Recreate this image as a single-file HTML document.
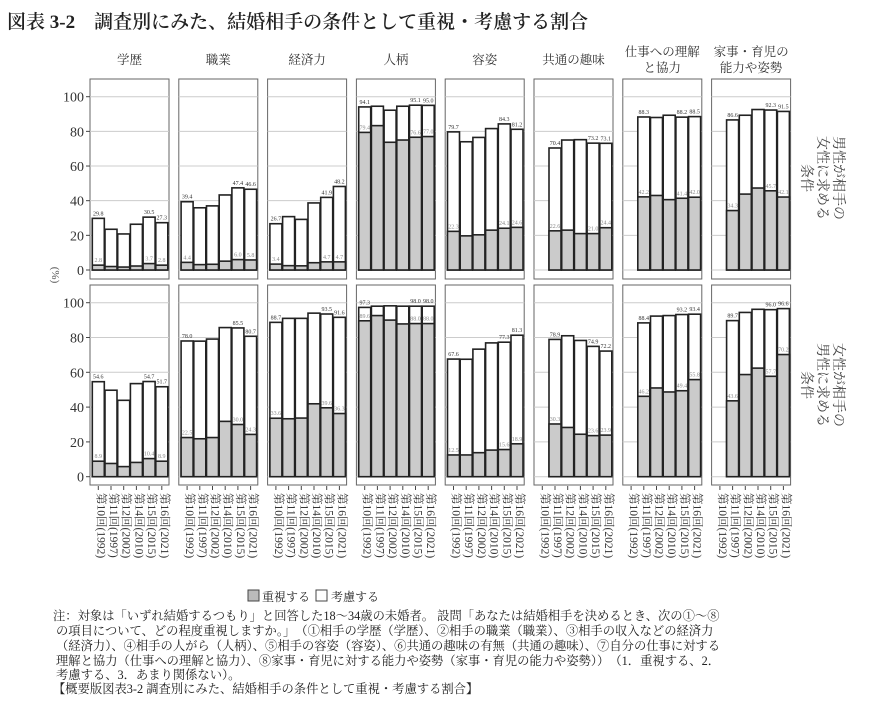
<!DOCTYPE html>
<html><head><meta charset="utf-8"><style>
body{margin:0;background:#fff;width:870px;height:722px;overflow:hidden;font-family:"Liberation Serif","Noto Serif CJK SC","Noto Sans CJK JP",serif;}
svg{position:absolute;left:0;top:0}
</style></head><body>
<svg id="s" width="870" height="722" xmlns="http://www.w3.org/2000/svg" font-family="Liberation Serif, Noto Serif CJK SC, Noto Sans CJK JP, serif"></svg>
<script>
(function(){
const S=document.getElementById('s');let h='';
h+='<text x="7" y="28" font-size="19" font-weight="600" fill="#222">図表 3-2　調査別にみた、結婚相手の条件として重視・考慮する割合</text>';
const titles=[["学歴"],["職業"],["経済力"],["人柄"],["容姿"],["共通の趣味"],["仕事への理解","と協力"],["家事・育児の","能力や姿勢"]];
const topD=[
[[29.8,23.5,20.8,26.4,30.5,27.3],[2.8,2.0,1.7,2.3,3.7,2.8]],
[[39.4,35.9,37.0,43.3,47.4,46.6],[4.4,3.1,3.3,5.1,6.0,5.8]],
[[26.7,30.8,29.2,38.7,41.9,48.2],[3.4,2.5,2.4,4.2,4.7,4.7]],
[[94.1,94.5,92.2,94.5,95.1,95.0],[79.4,83.3,73.7,75.0,76.6,77.0]],
[[79.7,74.0,76.5,81.6,84.3,81.2],[22.3,19.7,20.3,23.0,24.1,24.6]],
[[null,70.4,75.0,75.2,73.2,73.1],[null,22.6,23.0,21.0,21.0,24.4]],
[[null,88.3,88.0,89.3,88.2,88.5],[null,42.2,43.0,40.6,41.4,42.0]],
[[null,86.6,89.3,92.6,92.3,91.5],[null,34.3,43.8,47.3,45.7,42.1]]];
const botD=[
[[54.6,49.7,43.9,53.5,54.7,51.7],[8.9,7.6,5.8,8.2,10.4,8.9]],
[[78.0,77.9,79.1,85.7,85.5,80.7],[22.5,21.8,22.5,31.8,30.0,24.3]],
[[88.7,91.0,91.0,94.0,93.5,91.6],[33.6,33.3,33.7,41.9,39.6,36.3]],
[[97.3,98.0,98.2,98.0,98.0,98.0],[89.6,92.6,90.0,87.8,88.0,88.0]],
[[67.6,67.5,73.3,76.9,77.3,81.3],[12.5,12.5,13.8,15.3,15.6,18.9]],
[[null,78.9,81.0,78.3,74.9,72.2],[null,30.3,28.3,24.4,23.6,23.9]],
[[null,88.4,92.3,92.6,93.2,93.4],[null,46.2,51.0,48.7,49.4,55.8]],
[[null,89.7,94.4,96.2,96.0,96.6],[null,43.6,58.7,62.4,57.7,70.2]]];
const years=["第10回(1992)","第11回(1997)","第12回(2002)","第14回(2010)","第15回(2015)","第16回(2021)"];
function panel(x0,yt,yb,y0,sc,d,first){
 h+=`<rect x="${x0}" y="${yt}" width="79" height="${yb-yt}" fill="#fff" stroke="#666" stroke-width="1"/>`;
 for(let v=0;v<=100;v+=20){const y=y0-v*sc;h+=`<line x1="${x0}" x2="${x0+79}" y1="${y}" y2="${y}" stroke="#ccc" stroke-width="1"/>`;
  if(first){h+=`<line x1="${x0-4}" x2="${x0}" y1="${y}" y2="${y}" stroke="#444"/><text x="${x0-6}" y="${y+5}" font-size="14" text-anchor="end" fill="#333">${v}</text>`;}}
 const t=d[0],hv=d[1];let firstIdx=t[0]==null?1:0;
 for(let i=0;i<6;i++){if(t[i]==null)continue;const bx=x0+2.3+i*12.7;
  const yT=y0-t[i]*sc,yH=y0-hv[i]*sc;
  h+=`<rect x="${bx}" y="${yT}" width="12" height="${y0-yT}" fill="#fff" stroke="#222" stroke-width="1.6"/>`;
  h+=`<rect x="${bx}" y="${yH}" width="12" height="${y0-yH}" fill="#cbcbcb" stroke="#222" stroke-width="1.6"/>`;
  if(i==firstIdx||i>=4){h+=`<text x="${bx+6}" y="${yT-3}" font-size="6" text-anchor="middle" fill="#333">${t[i].toFixed(1)}</text><text x="${bx+6}" y="${yH-3}" font-size="6" text-anchor="middle" fill="#888">${hv[i].toFixed(1)}</text>`;}
 }
}
for(let p=0;p<8;p++){const x0=90+p*88.8;const cx=x0+39.5;
 const tt=titles[p];
 if(tt.length==1)h+=`<text x="${cx}" y="64" font-size="12.5" text-anchor="middle" fill="#333">${tt[0]}</text>`;
 else{h+=`<text x="${cx}" y="56" font-size="12.5" text-anchor="middle" fill="#333">${tt[0]}</text><text x="${cx}" y="72" font-size="12.5" text-anchor="middle" fill="#333">${tt[1]}</text>`;}
 panel(x0,79,279,270,1.733,topD[p],p==0);
 panel(x0,285,485,476.7,1.74,botD[p],p==0);
 for(let i=0;i<6;i++){const bx=x0+2.3+i*12.7+6;
  h+=`<line x1="${bx}" x2="${bx}" y1="486" y2="490" stroke="#444"/>`;
  h+=`<text transform="translate(${bx-1},493) rotate(90)" font-size="11.5" fill="#333">${years[i]}</text>`;}
}
h+=`<text transform="translate(52,275) rotate(90)" font-size="11" fill="#555" text-anchor="middle">(%)</text>`;
function strip(cy,lines){lines.forEach((l,k)=>{h+=`<text transform="translate(${834-k*16},${cy}) rotate(90)" font-size="14" fill="#444" text-anchor="middle">${l}</text>`;});}
strip(178,["男性が相手の","女性に求める","条件"]);
strip(385,["女性が相手の","男性に求める","条件"]);
h+=`<rect x="248" y="590" width="11" height="11" fill="#bbb" stroke="#444"/><text x="262" y="601" font-size="12" fill="#222">重視する</text>`;
h+=`<rect x="316" y="590" width="11" height="11" fill="#fff" stroke="#444"/><text x="331" y="601" font-size="12" fill="#222">考慮する</text>`;
const notes=[[53,620,"注：対象は「いずれ結婚するつもり」と回答した18～34歳の未婚者。 設問「あなたは結婚相手を決めるとき、次の①～⑧"],
[56,635,"の項目について、どの程度重視しますか。」　（①相手の学歴（学歴）、②相手の職業（職業）、③相手の収入などの経済力"],
[56,650,"（経済力）、④相手の人がら（人柄）、⑤相手の容姿（容姿）、⑥共通の趣味の有無（共通の趣味）、⑦自分の仕事に対する"],
[56,665,"理解と協力（仕事への理解と協力）、⑧家事・育児に対する能力や姿勢（家事・育児の能力や姿勢））　（1．重視する、2．"],
[56,679,"考慮する、3．あまり関係ない）。"],
[53,693,"【概要版図表3-2 調査別にみた、結婚相手の条件として重視・考慮する割合】"]];
notes.forEach(n=>{h+=`<text x="${n[0]}" y="${n[1]}" font-size="12.3" fill="#222">${n[2]}</text>`;});
S.innerHTML=h;
})();
</script>
</body></html>
